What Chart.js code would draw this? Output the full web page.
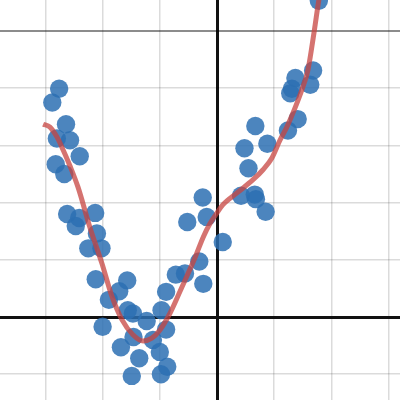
<!DOCTYPE html>
<html>
<head>
<meta charset="utf-8">
<script src="https://cdn.jsdelivr.net/npm/chart.js@4"></script>
<style>
  body { margin: 0; background: #fff; }
  #wrap { width: 400px; height: 400px; }
</style>
</head>
<body>
<div id="wrap"><canvas id="myChart"></canvas></div>
<script>
// scattered samples (grid units)
const pointX = [-2.76, -2.88, -2.64, -2.80, -2.57, -2.40, -2.82, -2.67, -2.62, -2.41, -2.47,
  -2.13, -2.10, -2.25, -2.02, -2.12, -1.57, -1.71, -1.89, -1.56, -1.47, -2.00, -1.23,
  -0.97, -0.89, -0.72, -0.56, -1.46, -1.12, -0.89, -1.68, -1.00, -1.36, -0.87, -0.98,
  -1.49, -0.25, -0.52, -0.18, 0.10, -0.31, -0.24, 0.42, 0.66, 0.68, 0.85, 0.55, 0.48,
  0.67, 0.88, 1.24, 1.41, 1.31, 1.28, 1.37, 1.63, 1.68, 1.78];
const pointY = [3.99, 3.75, 3.37, 3.12, 3.09, 2.81, 2.67, 2.50, 1.80, 1.73, 1.59,
  1.82, 1.46, 1.20, 1.20, 0.66, 0.64, 0.45, 0.30, 0.12, 0.06, -0.17, -0.07,
  0.12, 0.44, 0.74, 0.76, -0.35, -0.40, -0.22, -0.53, -0.61, -0.72, -0.87, -1.00,
  -1.03, 2.09, 1.66, 1.75, 1.31, 0.97, 0.58, 2.12, 2.14, 2.06, 1.84, 2.60, 2.95,
  3.34, 3.03, 3.26, 3.46, 3.99, 3.91, 4.18, 4.06, 4.31, 5.53];

// fitted curve
const curveX = [-3.04, -2.92, -2.80, -2.69, -2.57, -2.43, -2.22, -2.01, -1.84, -1.66,
  -1.47, -1.29, -1.14, -1.00, -0.82, -0.65, -0.52, -0.38, -0.24, -0.12, 0, 0.10,
  0.35, 0.63, 0.80, 0.96, 1.10, 1.22, 1.35, 1.49, 1.59, 1.70, 1.78, 1.82];
const curveY = [3.37, 3.32, 3.15, 2.92, 2.64, 2.27, 1.56, 0.93, 0.37, -0.05,
  -0.31, -0.42, -0.37, -0.23, 0.07, 0.44, 0.73, 1.05, 1.40, 1.64, 1.82, 1.96,
  2.17, 2.40, 2.57, 2.78, 3.09, 3.32, 3.62, 3.99, 4.32, 5.00, 5.54, 5.75];

const xMin = -3.794, xMax = 3.199;
const yMin = -1.451, yMax = 5.542;

const points = pointX.map((x, i) => ({ x: x, y: pointY[i] }));
const curve = curveX.map((x, i) => ({ x: x, y: curveY[i] }));

function gridColor(ctx, special) {
  if (ctx.tick.value === 0) return '#111';
  if (ctx.tick.value === special) return 'rgba(0,0,0,0.45)';
  return 'rgba(0,0,0,0.14)';
}
function gridWidth(ctx, special) {
  if (ctx.tick.value === 0) return 3;
  if (ctx.tick.value === special) return 2;
  return 1.5;
}

const ctx = document.getElementById('myChart');

new Chart(ctx, {
  type: 'scatter',
  data: {
    datasets: [
      {
        type: 'line',
        data: curve,
        borderColor: 'rgba(199,68,64,0.75)',
        borderWidth: 5,
        pointRadius: 0,
        cubicInterpolationMode: 'monotone',
        fill: false,
        order: 0
      },
      {
        data: points,
        backgroundColor: 'rgba(45,112,179,0.85)',
        borderWidth: 0,
        pointRadius: 9.2,
        order: 1
      }
    ]
  },
  options: {
    responsive: true,
    maintainAspectRatio: false,
    animation: false,
    layout: { padding: 0, autoPadding: false },
    plugins: {
      legend: { display: false },
      tooltip: { enabled: false }
    },
    scales: {
      x: {
        type: 'linear',
        min: xMin,
        max: xMax,
        border: { display: false },
        ticks: { display: false, stepSize: 1, includeBounds: false },
        grid: {
          drawTicks: false,
          color: (c) => gridColor(c, null),
          lineWidth: (c) => gridWidth(c, null)
        }
      },
      y: {
        type: 'linear',
        min: yMin,
        max: yMax,
        border: { display: false },
        ticks: { display: false, stepSize: 1, includeBounds: false },
        grid: {
          drawTicks: false,
          color: (c) => gridColor(c, 5),
          lineWidth: (c) => gridWidth(c, 5)
        }
      }
    }
  }
});
</script>
</body>
</html>
